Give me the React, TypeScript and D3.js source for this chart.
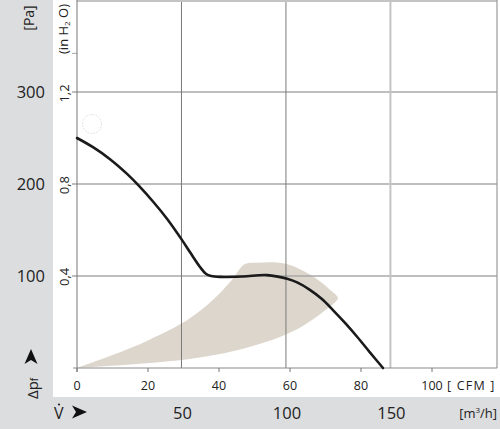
import React from "react";
import * as d3 from "d3";

// Fan curve: free-blowing pressure vs air flow
const curveFlowCFM = [0, 4.5, 9.3, 14.1, 17.2, 21.4, 25.4, 29.6, 31.8, 34.6, 36.3, 37.8, 40.3, 46.8, 53.5, 59.2, 62, 65.6, 69, 72.1, 75.5, 78.9, 82.5, 86.2];
const curvePressurePa = [250, 240, 227, 211, 199, 181, 162, 139, 126, 110, 102.5, 100, 99, 99.5, 101, 97, 93, 85, 75, 63, 49, 34, 17, 0];

// Shaded operating range: upper edge then lower edge (going back)
const zoneUpperCFM = [0, 10, 20, 29.3, 34.6, 39, 43.5, 47.3, 51, 55, 59, 62.5, 65.6, 68.5, 71, 73.5];
const zoneUpperPa = [0, 14, 30, 48, 62, 76.5, 95, 113, 114.5, 115, 113, 108, 101.5, 94, 86, 76];
const zoneLowerCFM = [72, 70, 66, 62, 57, 50, 43, 35, 25, 14, 0];
const zoneLowerPa = [69, 63, 51.5, 42, 33.5, 24.5, 17.5, 11.8, 7, 3.4, 0];

// Axes
const cfmTicks = [0, 20, 40, 60, 80, 100];
const m3hTicks = [50, 100, 150];
const paTicks = [100, 200, 300];
const inH2OTicks = [0.4, 0.8, 1.2];
const inH2OLabels = ["0,4", "0,8", "1,2"];
const minorPaTicks = [342];

const M3H_PER_CFM = 1.699;
const PA_PER_INH2O = 249.09;

const FONT = "'Open Sans', 'Noto Sans', sans-serif";

export default function App() {
  const W = 500;
  const H = 429;
  const x = d3.scaleLinear().domain([0, 100]).range([77, 432]);
  const y = d3.scaleLinear().domain([0, 300]).range([368, 92]);
  const xLeft = 77;
  const xRight = 497;
  const yTop = 1;
  const yBottom = 368;

  const curvePts: [number, number][] = curveFlowCFM.map((q, i) => [q, curvePressurePa[i]]);
  const line = d3
    .line<[number, number]>()
    .x((d) => x(d[0]))
    .y((d) => y(d[1]))
    .curve(d3.curveCatmullRom.alpha(0.5));

  const zonePts: [number, number][] = [
    ...zoneUpperCFM.map((q, i) => [q, zoneUpperPa[i]] as [number, number]),
    ...zoneLowerCFM.map((q, i) => [q, zoneLowerPa[i]] as [number, number]),
  ];
  const zoneLine = d3
    .line<[number, number]>()
    .x((d) => x(d[0]))
    .y((d) => y(d[1]))
    .curve(d3.curveCatmullRom.alpha(0.5));

  const arrowPath = "M-7,-6.5 L8,0 L-7,6.5 L-3,0 Z";

  return (
    <svg
      width={W}
      height={H}
      style={{ position: "absolute", left: 0, top: 0, display: "block" }}
      fontFamily={FONT}
    >
      <rect x={0} y={0} width={W} height={H} fill="#ffffff" />
      {/* gray bands */}
      <rect x={0} y={0} width={53} height={H} fill="#dcdddf" />
      <rect x={0} y={397} width={W} height={H - 397} fill="#dcdddf" />

      {/* shaded zone */}
      <path d={zoneLine(zonePts) + "Z"} fill="#ddd6cc" stroke="none" />

      {/* horizontal grid lines */}
      {paTicks.map((p) => (
        <line key={"h" + p} x1={72} x2={xRight} y1={y(p)} y2={y(p)} stroke="#a8a8a8" strokeWidth={1.4} />
      ))}
      {minorPaTicks.map((p) => (
        <line key={"mt" + p} x1={72} x2={xLeft} y1={y(p)} y2={y(p)} stroke="#a8a8a8" strokeWidth={1} />
      ))}

      {/* vertical grid lines at m3/h */}
      {m3hTicks.map((m, i) => (
        <line
          key={"v" + m}
          x1={x(m / M3H_PER_CFM)}
          x2={x(m / M3H_PER_CFM)}
          y1={0}
          y2={yBottom}
          stroke={i === 2 ? "#c4c4c4" : "#7a7a7a"}
          strokeWidth={i === 2 ? 2 : 1}
        />
      ))}

      {/* frame */}
      <line x1={xLeft} x2={xRight} y1={yTop} y2={yTop} stroke="#c4c4c4" strokeWidth={2} />
      <line x1={xRight} x2={xRight} y1={0} y2={yBottom} stroke="#999" strokeWidth={1.2} />
      <line x1={xLeft} x2={xLeft} y1={0} y2={yBottom + 4} stroke="#777" strokeWidth={1} />
      <line x1={73} x2={xRight} y1={yBottom} y2={yBottom} stroke="#8a8a8a" strokeWidth={1} />
      {cfmTicks.map((t) => (
        <line key={"xt" + t} x1={x(t)} x2={x(t)} y1={yBottom} y2={yBottom + 4} stroke="#777" strokeWidth={1} />
      ))}

      {/* fan curve */}
      <path d={line(curvePts) || ""} fill="none" stroke="#1a1a1a" strokeWidth={2.6} strokeLinecap="round" />

      {/* dotted circle */}
      <circle cx={92} cy={124} r={9.5} fill="none" stroke="#d0d0d0" strokeWidth={0.8} strokeDasharray="1.5 1.5" />

      {/* CFM tick labels */}
      {cfmTicks.map((t) => (
        <text key={"xl" + t} x={x(t)} y={390} fontSize={12.5} textAnchor="middle" fill="#222">
          {t}
        </text>
      ))}
      <text x={447} y={390} fontSize={12.5} letterSpacing={1.2} fill="#222">
        {"[ CFM ]"}
      </text>

      {/* m3/h labels */}
      {m3hTicks.map((m) => (
        <text key={"ml" + m} x={x(m / M3H_PER_CFM) + 1} y={419} fontSize={16.5} textAnchor="middle" fill="#222">
          {m}
        </text>
      ))}
      <text x={497} y={418} fontSize={13} textAnchor="end" fill="#222">
        [m<tspan fontSize={8} dy={-5}>3</tspan>
        <tspan dy={5}>/h]</tspan>
      </text>

      {/* Pa labels */}
      {paTicks.map((p) => (
        <text key={"pl" + p} x={45} y={y(p) + 6} fontSize={16.5} textAnchor="end" fill="#222">
          {p}
        </text>
      ))}
      <text transform="translate(34,18) rotate(-90)" fontSize={14} textAnchor="middle" fill="#222">
        [Pa]
      </text>

      {/* in H2O labels */}
      {inH2OTicks.map((v, i) => (
        <text
          key={"il" + v}
          transform={`translate(69,${y(v * PA_PER_INH2O) + 0.5}) rotate(-90)`}
          fontSize={13}
          textAnchor="middle"
          fill="#222"
        >
          {inH2OLabels[i]}
        </text>
      ))}
      <text transform="translate(68,29) rotate(-90)" fontSize={13} textAnchor="middle" fill="#222">
        (in H<tspan fontSize={8} dy={2}>2</tspan>
        <tspan dy={-2}> O)</tspan>
      </text>

      {/* Δpf arrow label */}
      <text transform="translate(38,399) rotate(-90)" fontSize={15} fill="#222">
        Δp<tspan fontSize={10}>f</tspan>
      </text>
      <path d={arrowPath} transform="translate(31,357) rotate(-90)" fill="#111" />

      {/* V̇ arrow label */}
      <text x={54} y={419} fontSize={16} fill="#222">
        V
      </text>
      <circle cx={59} cy={404.5} r={1.1} fill="#222" />
      <path d={arrowPath} transform="translate(79,412)" fill="#111" />
    </svg>
  );
}
